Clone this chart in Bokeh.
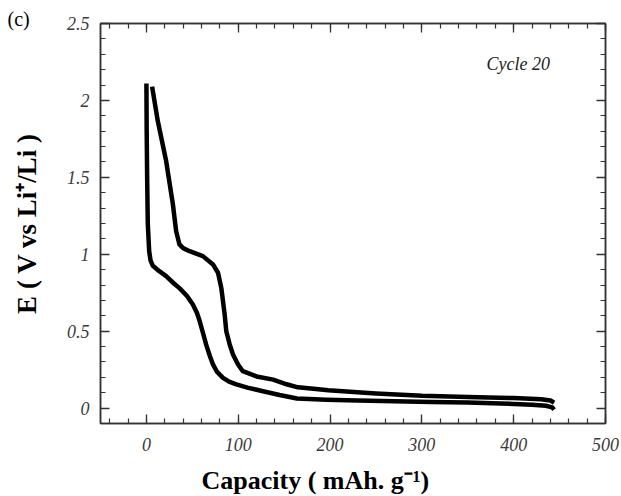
import math
from bokeh.plotting import figure
from bokeh.models import LinearAxis, FixedTicker, Range1d, Label, Title, CustomJSTickFormatter
from bokeh.embed import file_html
from bokeh.resources import INLINE

# ---- data ----
discharge_capacity = [0, 0.3, 0.8, 1.5, 3, 4.5, 7, 14, 21.5, 30, 36, 44, 50.6, 55, 58, 62, 65, 69,
                      72.5, 77, 83.4, 90, 98, 110, 127, 145, 164, 196, 230, 270, 310, 350, 386,
                      420, 435, 442, 444]
discharge_voltage = [2.11, 1.8, 1.5, 1.2, 1.02, 0.96, 0.925, 0.89, 0.858, 0.81, 0.78, 0.73, 0.674,
                     0.62, 0.566, 0.48, 0.414, 0.34, 0.284, 0.235, 0.197, 0.172, 0.154, 0.133,
                     0.11, 0.085, 0.062, 0.055, 0.05, 0.045, 0.04, 0.037, 0.03, 0.022, 0.015,
                     0.005, -0.01]

charge_capacity = [444, 440, 430, 400, 350, 300, 250, 198, 182, 165, 152.7, 138, 120, 105, 99.8,
                   94.3, 90.7, 87, 85.2, 81.6, 78, 72.5, 61.5, 47, 40, 36, 32.4, 28.8, 21.5,
                   12.4, 6.2]
charge_voltage = [0.035, 0.05, 0.058, 0.065, 0.072, 0.08, 0.095, 0.116, 0.126, 0.135, 0.155,
                  0.185, 0.206, 0.24, 0.284, 0.349, 0.414, 0.5, 0.61, 0.78, 0.88, 0.934, 0.988,
                  1.02, 1.04, 1.064, 1.15, 1.326, 1.606, 1.866, 2.09]

x_ticks = [0, 100, 200, 300, 400, 500]
x_tick_labels = ["0", "100", "200", "300", "400", "500"]
y_ticks = [0, 0.5, 1, 1.5, 2, 2.5]
y_tick_labels = ["0", "0.5", "1", "1.5", "2", "2.5"]
x_minor = [v for v in range(-40, 501, 20)]
y_minor = [round(-0.1 + 0.1 * i, 1) for i in range(27)]

annotation_text = "Cycle 20"
panel_tag = "(c)"
x_title = "Capacity ( mAh. g\u207b\u00b9)"
y_title = "E ( V vs Li\u207a/Li )"

SERIF = "Liberation Serif"
AX_COL = "#333333"

p = figure(frame_width=505, frame_height=400,
           x_range=Range1d(-50, 500), y_range=Range1d(-0.1, 2.5),
           output_backend="svg", toolbar_location=None,
           min_border_left=100, min_border_right=16, min_border_top=23, min_border_bottom=73)
p.xgrid.visible = False
p.ygrid.visible = False
p.outline_line_color = AX_COL
p.outline_line_width = 1.5
p.background_fill_color = "white"
p.border_fill_color = "white"

def style_axis(ax, ticks, minor, labels, show_labels=True):
    ax.ticker = FixedTicker(ticks=ticks, minor_ticks=minor)
    ax.axis_line_color = AX_COL
    ax.axis_line_width = 1.5
    ax.major_tick_line_color = AX_COL
    ax.minor_tick_line_color = AX_COL
    ax.major_tick_line_width = 1.3
    ax.minor_tick_line_width = 1.2
    ax.major_tick_in = 9
    ax.major_tick_out = 0
    ax.minor_tick_in = 5
    ax.minor_tick_out = 0
    if show_labels:
        ax.major_label_overrides = {t: l for t, l in zip(ticks, labels)}
        ax.major_label_text_font = SERIF
        ax.major_label_text_font_style = "italic"
        ax.major_label_text_font_size = "18px"
        ax.major_label_text_color = "#3a3a3a"
        ax.major_label_standoff = 11
    else:
        ax.formatter = CustomJSTickFormatter(code="return ''")
        ax.major_label_standoff = 0
        ax.major_label_text_font_size = "1px"

style_axis(p.xaxis[0], x_ticks, x_minor, x_tick_labels)
style_axis(p.yaxis[0], y_ticks, y_minor, y_tick_labels)
p.yaxis[0].major_label_orientation = "horizontal"
p.xaxis[0].major_label_standoff = 14

ya = p.yaxis[0]
ya.axis_label = y_title
ya.axis_label_text_font = SERIF
ya.axis_label_text_font_style = "bold"
ya.axis_label_text_font_size = "27px"
ya.axis_label_text_color = "black"
ya.axis_label_standoff = 22

top = LinearAxis()
style_axis(top, x_ticks, x_minor, x_tick_labels, show_labels=False)
p.add_layout(top, "above")
right = LinearAxis()
style_axis(right, y_ticks, y_minor, y_tick_labels, show_labels=False)
p.add_layout(right, "right")

p.line(discharge_capacity, discharge_voltage, line_color="black", line_width=4.5, line_join="round")
p.line(charge_capacity, charge_voltage, line_color="black", line_width=4.5, line_join="round")

p.add_layout(Label(x=405, y=2.237, text=annotation_text, text_font=SERIF,
                   text_font_style="italic", text_font_size="18px", text_color="#222222",
                   text_align="center", text_baseline="middle"))

p.add_layout(Title(text=x_title, align="left", offset=101, standoff=20,
                   text_font=SERIF, text_font_style="bold", text_font_size="26px",
                   text_color="black"), "below")
p.add_layout(Title(text=panel_tag, align="left", offset=-93, standoff=-12,
                   text_font=SERIF, text_font_style="normal", text_font_size="20px",
                   text_color="black"), "above")

open("out.html", "w").write(file_html(p, INLINE))
